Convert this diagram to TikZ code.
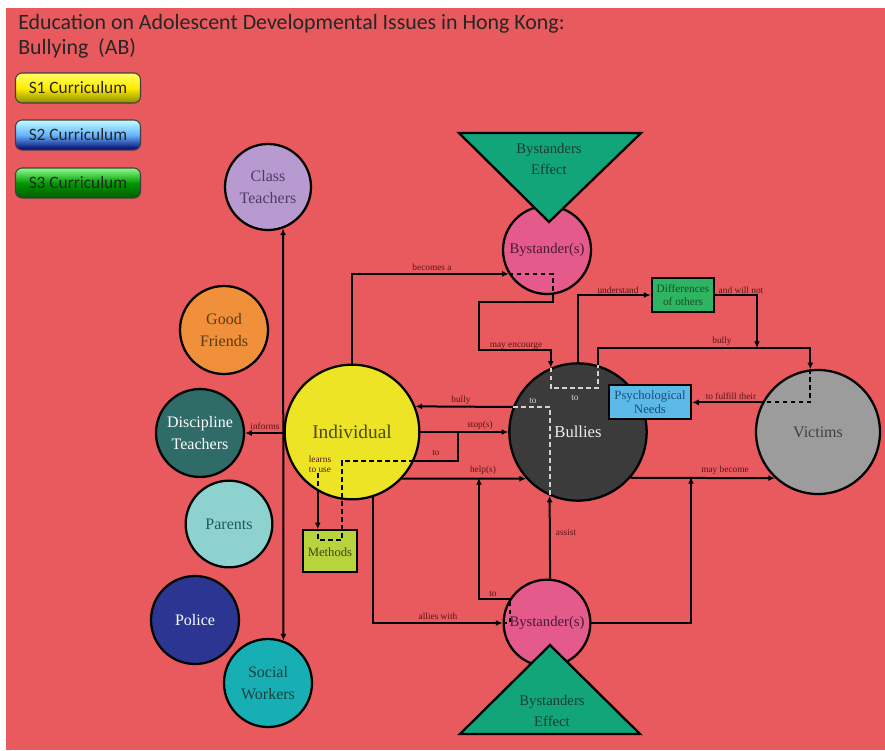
\documentclass[tikz,border=0pt]{standalone}
\usepackage{fontspec}
\setmainfont{Liberation Serif}
\newfontfamily\uifont{Carlito}
\usetikzlibrary{arrows.meta,shapes.geometric,calc}

\definecolor{bgred}{HTML}{E85A5D}
\definecolor{lav}{HTML}{B79AD0}
\definecolor{orng}{HTML}{F0903A}
\definecolor{dteal}{HTML}{2F6B67}
\definecolor{lteal}{HTML}{8ED2CF}
\definecolor{navy}{HTML}{2C3591}
\definecolor{tealc}{HTML}{17AFB3}
\definecolor{yel}{HTML}{ECE424}
\definecolor{dgray}{HTML}{3B3B3B}
\definecolor{mgray}{HTML}{9C9C9C}
\definecolor{pinkc}{HTML}{E45A8B}
\definecolor{tri}{HTML}{12A57A}
\definecolor{diffg}{HTML}{2EB562}
\definecolor{psyb}{HTML}{5DB9E8}
\definecolor{meth}{HTML}{B7D43D}
\definecolor{lblc}{HTML}{5A1418}
\definecolor{lgray}{HTML}{D2D2D2}

\begin{document}
\begin{tikzpicture}[x=0.75pt,y=-0.75pt,
  every node/.style={inner sep=0pt},
  circ/.style={circle,draw=black,line width=1.7pt,align=center,inner sep=0pt,
    font=\fontsize{12}{16}\selectfont},
  box/.style={rectangle,draw=black,line width=1.7pt,align=center,inner sep=0pt},
  conn/.style={line width=1.5pt,draw=black},
  arr/.style={conn,-{Latex[length=5pt,width=4.5pt]}},
  dsh/.style={line width=1.5pt,draw=black,dash pattern=on 3.5pt off 2.5pt},
  gdsh/.style={line width=1.5pt,draw=lgray,dash pattern=on 3.5pt off 2.5pt},
  lbl/.style={font=\fontsize{7}{7.5}\selectfont,text=lblc,inner sep=0.5pt,align=center},
  wlbl/.style={lbl,text=lgray},
  btn/.style={rounded corners=5pt,draw=black!75,line width=0.8pt,
    minimum width=93.75pt,minimum height=22.5pt,
    font=\uifont\fontsize{13}{14}\selectfont},
  trishape/.style={fill=tri,draw=black,line width=1.7pt,line join=miter}
]
% canvas
\fill[white] (0,0) rectangle (885,750);
\fill[bgred] (6,8) rectangle (885,750);
\useasboundingbox (0,0) rectangle (885,750);

% heading
\node[anchor=base west,font=\uifont\fontsize{16.4}{18}\selectfont,text=black!85] (title1) at (18,29)
  {Education on Adolescent Developmental Issues in Hong Kong:};
\node[anchor=base west,font=\uifont\fontsize{16.4}{18}\selectfont,text=black!85] (title2) at (18,54)
  {Bullying\ \ (AB)};

% curriculum buttons
\node[btn,top color=yellow!60!white,bottom color=yellow!55!black,middle color=yellow!85!orange,text=black!85] (s1) at (78,88) {S1 Curriculum};
\node[btn,top color=cyan!25!white,bottom color=blue!40!black,middle color=cyan!50!blue!60,text=black!85] (s2) at (78,135) {S2 Curriculum};
\node[btn,top color=green!45!white,bottom color=green!35!black,middle color=green!60!black,text=black!85] (s3) at (78,183) {S3 Curriculum};

% people around the individual
\node[circ,fill=lav,minimum size=64.5pt,text={rgb,255:red,77;green,61;blue,102}] (ct) at (268,187) {Class\\Teachers};
\node[circ,fill=orng,minimum size=66pt,text={rgb,255:red,90;green,58;blue,16}] (gf) at (224,330) {Good\\Friends};
\node[circ,fill=dteal,minimum size=66pt,text=white] (dt) at (200,433) {Discipline\\Teachers};
\node[circ,fill=lteal,minimum size=65pt,text={rgb,255:red,30;green,90;blue,90}] (par) at (229,524) {Parents};
\node[circ,fill=navy,minimum size=66pt,text=white] (pol) at (195,620) {Police};
\node[circ,fill=tealc,minimum size=66pt,text={rgb,255:red,27;green,64;blue,64}] (sw) at (268,683) {Social\\Workers};

% main actors
\node[circ,fill=yel,minimum size=101pt,font=\fontsize{14.5}{16}\selectfont,text={rgb,255:red,74;green,74;blue,16}] (ind) at (352,432) {Individual};
\node[circ,fill=dgray,minimum size=103pt,font=\fontsize{12.5}{14}\selectfont,text=white!93!black] (bul) at (578,432) {Bullies};
\node[circ,fill=mgray,minimum size=93pt,font=\fontsize{12}{14}\selectfont,text=black!75] (vic) at (818,432) {Victims};
\node[circ,fill=pinkc,minimum size=66pt,font=\fontsize{11}{13}\selectfont,text={rgb,255:red,74;green,24;blue,56}] (bysT) at (547,250) {Bystander(s)};
\node[circ,fill=pinkc,minimum size=65pt,font=\fontsize{11}{13}\selectfont,text={rgb,255:red,74;green,24;blue,56}] (bysB) at (547,623) {Bystander(s)};

% bystander effect triangles
\draw[trishape] (459,133) -- (641,133) -- (549,222) -- cycle;
\node[align=center,font=\fontsize{11}{16}\selectfont,text={rgb,255:red,23;green,61;blue,45}] (beT) at (549,159) {Bystanders\\Effect};
\draw[trishape] (550,645) -- (640,734) -- (460,734) -- cycle;
\node[align=center,font=\fontsize{11}{16}\selectfont,text={rgb,255:red,23;green,61;blue,45}] (beB) at (552,711) {Bystanders\\Effect};

% boxes
\node[box,fill=diffg,minimum width=47pt,minimum height=26pt,font=\fontsize{8.5}{9.5}\selectfont,text={rgb,255:red,27;green,77;blue,40}] (diff) at (683,295) {Differences\\of others};
\node[box,fill=psyb,minimum width=61.5pt,minimum height=25pt,font=\fontsize{9.5}{10}\selectfont,text={rgb,255:red,26;green,76;blue,122}] (psy) at (650,402) {Psychological\\Needs};
\node[box,fill=meth,minimum width=41pt,minimum height=31pt,font=\fontsize{9.5}{10}\selectfont,text={rgb,255:red,58;green,74;blue,16}] (meth) at (330,551) {\raisebox{-8pt}{Methods}};

% junction points on connectors
\coordinate (ybully) at (0,348);
\coordinate (jbully) at (757,348);
\coordinate (yenc1) at (0,302);
\coordinate (xenc) at (479,0);
\coordinate (yenc2) at (0,350);
\coordinate (ygray) at (0,388);
\coordinate (jstop) at (458,432);
\coordinate (xm1) at (342,0);
\coordinate (ym1) at (0,540);
\coordinate (xm2) at (318,0);
\coordinate (ym2) at (0,533);
\coordinate (jhelp) at (479,478);
\coordinate (jmay) at (691,477);
\coordinate (jinf) at (283,433);

% teachers / workers axis
\draw[conn,{Latex[length=5pt,width=4.5pt]}-{Latex[length=5pt,width=4.5pt]}] (ct.-70) -- (sw.70);
\draw[arr] (jinf) -- (dt.east);

% becomes a bystander, who may encourage the bullies
\draw[arr] (ind.north) |- (bysT.212);
\draw[dsh] (bysT.212) -- (bysT.212 -| bysT.-83) -- (bysT.-83);
\draw[arr] (bysT.-83) -- (bysT.-83 |- yenc1) -- (xenc |- yenc1) -- (xenc |- yenc2) -- (bul.113 |- yenc2) -- (bul.113);
\draw[gdsh] (bul.113) -- (bul.113 |- ygray) -- (bul.73 |- ygray) -- (bul.73);

% bullies understand differences and will not bully victims
\draw[arr] (bul.north) |- (diff.west);
\draw[arr] (diff.east) -| (jbully);
\draw[arr] (bul.73) -- (bul.73 |- ybully) -| (vic.97);
\draw[dsh] (vic.97) -- (vic.97 |- vic.152) -- (vic.152);
\draw[arr] (vic.152) -- (vic.152 -| psy.east);

% bullies bully the individual
\draw[arr] (bul.159) -- (ind.22);
\draw[gdsh] (bul.159) -- (bul.159 -| bul.246) -- (bul.246);

% individual stops / helps the bullies
\draw[arr] (ind.east) -- (bul.west);
\draw[conn] (jstop) |- (ind.-25);
\draw[dsh] (ind.-25) -- (xm1 |- ind.-25) -- (xm1 |- ym1) -- (xm2 |- ym1) -- (xm2 |- ym2);
\draw[arr] (ind.-43) -- (bul.222);

% learns to use methods
\node[lbl] (llearn) at (320,464) {learns\\to use};
\draw[dsh] (llearn.south -| ind.240) -- (ind.240);
\draw[arr] (ind.240) -- (ind.240 |- meth.north);

% allies with a bystander to help, who may assist the bullies
\draw[arr] (ind.-72) |- (bysB.west);
\draw[dsh] (bysB.west) -| (bysB.147);
\draw[arr] (bysB.147) -| (jhelp);
\draw[arr] (bysB.86) -- (bul.246);

% may become victims
\draw[arr] (bul.-41) -- (vic.227);
\draw[arr] (bysB.east) -| (jmay);

% connector labels
\node[lbl] (lbecomes) at (432,267) {becomes a};
\node[lbl] (lenc) at (516,346) {may encourge};
\node[lbl] (lund) at (618,290) {understand};
\node[lbl] (lwill) at (741,290) {and will not};
\node[lbl] (lbully1) at (722,341) {bully};
\node[lbl] (lfulfil) at (731,396) {to fulfill their};
\node[wlbl] (lto1) at (575,398) {to};
\node[wlbl] (lto2) at (533,401) {to};
\node[lbl] (lbully2) at (461,400) {bully};
\node[lbl] (lstop) at (480,425) {stop(s)};
\node[lbl] (lto3) at (436,453) {to};
\node[lbl] (lhelp) at (483,470) {help(s)};
\node[lbl] (lto4) at (493,594) {to};
\node[lbl] (lallies) at (438,616) {allies with};
\node[lbl] (lassist) at (566,532) {assist};
\node[lbl] (lmay) at (725,470) {may become};
\node[lbl] (linf) at (265,426) {informs};
\end{tikzpicture}
\end{document}
